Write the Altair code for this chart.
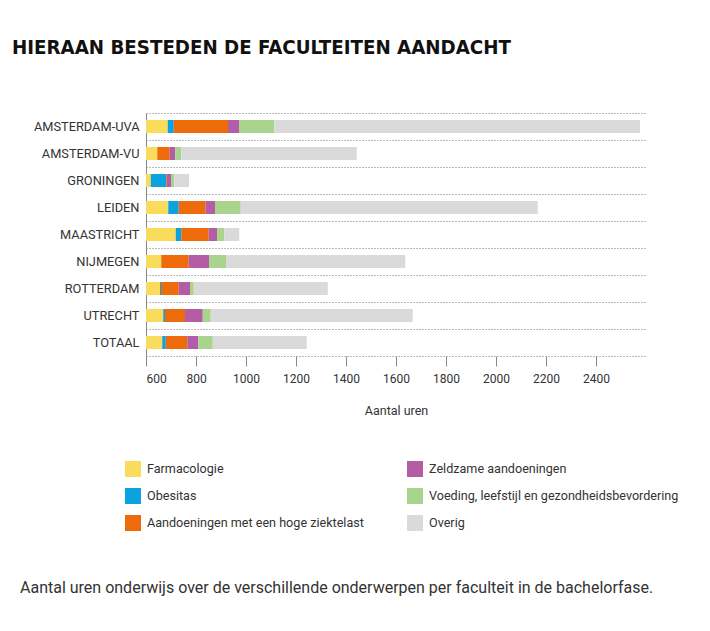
import altair as alt
import pandas as pd

faculties = ["AMSTERDAM-UVA", "AMSTERDAM-VU", "GRONINGEN", "LEIDEN", "MAASTRICHT",
             "NIJMEGEN", "ROTTERDAM", "UTRECHT", "TOTAAL"]
topics = ["Farmacologie", "Obesitas", "Aandoeningen met een hoge ziektelast",
          "Zeldzame aandoeningen", "Voeding, leefstijl en gezondheidsbevordering", "Overig"]
topic_colors = ["#F9DC5C", "#0AA3E0", "#EE6B0C", "#B55CA6", "#A8D48E", "#DADADA"]

farmacologie = [87, 45, 19, 89, 119, 61, 56, 69, 65]
obesitas = [24, 0, 62, 42, 22, 0, 4, 7, 14]
aandoeningen = [217, 50, 3, 108, 110, 110, 71, 80, 86]
zeldzaam = [44, 22, 16, 37, 33, 81, 45, 71, 44]
voeding = [141, 24, 13, 103, 29, 68, 15, 32, 58]
overig = [1463, 702, 59, 1188, 60, 717, 536, 808, 376]

axis_start = 600
tick_values = [600, 800, 1000, 1200, 1400, 1600, 1800, 2000, 2200, 2400]

title_text = "HIERAAN BESTEDEN DE FACULTEITEN AANDACHT"
caption_text = "Aantal uren onderwijs over de verschillende onderwerpen per faculteit in de bachelorfase."

series = [farmacologie, obesitas, aandoeningen, zeldzaam, voeding, overig]
rows = []
for ti, (topic, vals) in enumerate(zip(topics, series)):
    for fac, v in zip(faculties, vals):
        rows.append({"faculty": fac, "topic": topic, "hours": v, "order": ti})
df = pd.DataFrame(rows)

FONT = "Roboto"
TXT = "#333333"

bars = alt.Chart(df).transform_stack(
    stack="hours", groupby=["faculty"], as_=["s0", "s1"],
    sort=[alt.SortField("order", order="ascending")]
).transform_calculate(
    x0=f"datum.s0 + {axis_start}", x1=f"datum.s1 + {axis_start}"
).mark_bar(size=13).encode(
    x=alt.X("x0:Q", scale=alt.Scale(domain=[600, 2600], nice=False, zero=False),
            axis=alt.Axis(values=tick_values, format="d", title="Aantal uren", grid=False,
                          domain=False, tickSize=10, tickColor="#888888", labelPadding=7,
                          labelFlush=True, labelFont=FONT, labelFontSize=12, labelColor=TXT,
                          titleFont=FONT, titleFontSize=12.5, titleFontWeight="normal",
                          titleColor=TXT, titlePadding=20)),
    x2="x1:Q",
    y=alt.Y("faculty:N", sort=faculties,
            scale=alt.Scale(paddingInner=0, paddingOuter=0),
            axis=alt.Axis(title=None, ticks=False, tickBand="extent", grid=True,
                          gridDash=[1, 2], gridColor="#777777", domain=True,
                          domainColor="#888888", labelPadding=7,
                          labelFont=FONT, labelFontSize=12.8, labelColor=TXT)),
    color=alt.Color("topic:N", scale=alt.Scale(domain=topics, range=topic_colors),
                    legend=alt.Legend(title=None, orient="none", legendX=-21, legendY=348,
                                      columns=2, columnPadding=43, rowPadding=11,
                                      symbolType="square", symbolSize=256,
                                      symbolStrokeWidth=0, labelFont=FONT,
                                      labelFontSize=12.6, labelColor=TXT, labelLimit=400,
                                      labelOffset=6, padding=0)),
    order=alt.Order("order:Q"),
)

title = alt.Chart(pd.DataFrame({"t": [title_text]})).mark_text(
    align="left", baseline="middle",
    font="'DejaVu Sans Condensed', 'Liberation Sans Narrow', 'Roboto'",
    fontWeight="bold", fontSize=20.3, color="#111111"
).encode(text="t:N", x=alt.value(-134), y=alt.value(-65))

caption = alt.Chart(pd.DataFrame({"t": [caption_text]})).mark_text(
    align="left", baseline="middle", font=FONT, fontSize=16, color=TXT
).encode(text="t:N", x=alt.value(-126), y=alt.value(475))

chart = alt.layer(bars, title, caption).properties(
    width=500, height=243,
    padding={"left": 138, "top": 105, "right": 56, "bottom": 267},
    autosize=alt.AutoSizeParams(type="none"),
).configure_view(stroke=None)

chart.save("out.html", embed_options={"renderer": "svg", "actions": False})
